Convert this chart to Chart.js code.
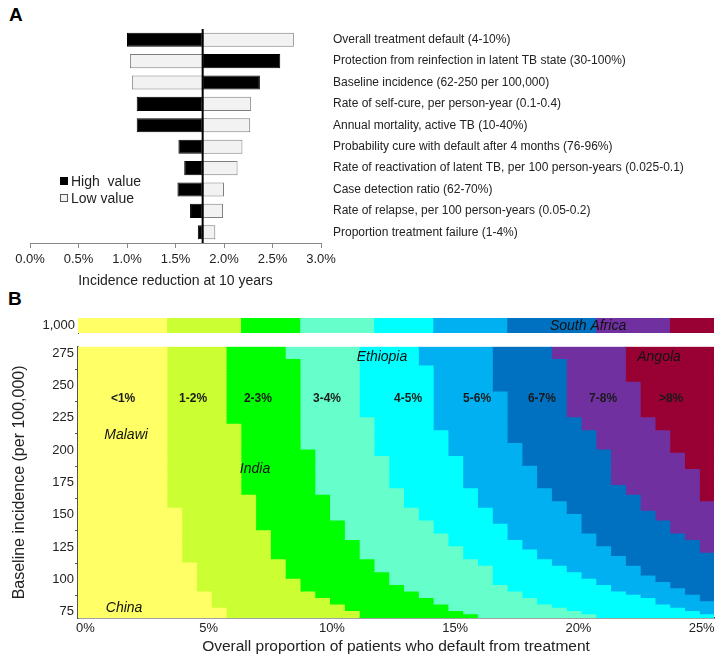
<!DOCTYPE html>
<html>
<head>
<meta charset="utf-8">
<script src="https://cdn.jsdelivr.net/npm/chart.js@4.4.0/dist/chart.umd.min.js"></script>
<style>
  body { margin: 0; background: #fff; width: 719px; height: 658px; position: relative; overflow: hidden; font-family: "Liberation Sans", Arial, sans-serif; }
  .panel-tag { position: absolute; font-weight: bold; font-size: 19px; color: #000; line-height: 1; }
  canvas { position: absolute; left: 0; }
</style>
</head>
<body>
<div class="panel-tag" style="left:9px;top:5px">A</div>
<div class="panel-tag" style="left:8px;top:289px">B</div>
<canvas id="tornado-chart" style="top:0" width="719" height="292"></canvas>
<canvas id="strip-chart" style="top:312px" width="719" height="26"></canvas>
<canvas id="contour-chart" style="top:338px" width="719" height="320"></canvas>
<script>
// Panel A - one-way sensitivity (tornado)
const parameters = [
  'Overall treatment default (4-10%)',
  'Protection from reinfection in latent TB state (30-100%)',
  'Baseline incidence (62-250 per 100,000)',
  'Rate of self-cure, per person-year (0.1-0.4)',
  'Annual mortality, active TB (10-40%)',
  'Probability cure with default after 4 months (76-96%)',
  'Rate of reactivation of latent TB, per 100 person-years (0.025-0.1)',
  'Case detection ratio (62-70%)',
  'Rate of relapse, per 100 person-years (0.05-0.2)',
  'Proportion treatment failure (1-4%)'
];
const baseReduction = 1.78;
const highValueResult = [1.00, 2.58, 2.37, 1.10, 1.10, 1.53, 1.59, 1.52, 1.65, 1.73];
const lowValueResult = [2.72, 1.03, 1.05, 2.28, 2.27, 2.19, 2.14, 2.00, 1.99, 1.91];
const reductionTicks = [0, 0.5, 1.0, 1.5, 2.0, 2.5, 3.0];

// Panel B - reduction bands over default proportion x baseline incidence
const bandLabels = ['<1%', '1-2%', '2-3%', '3-4%', '4-5%', '5-6%', '6-7%', '7-8%', '>8%'];
const bandColors = ['#ffff66', '#ccff33', '#00ff00', '#66ffcc', '#00ffff', '#00b0f0', '#0070c0', '#7030a0', '#990033'];
const bandLabelX = [1.53, 4.37, 7.0, 9.8, 13.09, 15.89, 18.52, 21.0, 23.76];
const bandLabelIncidence = 240;

// default-proportion grid: columns of 0.6% centred on 0%, 0.6%, ... 25.2%
const colStart = -0.3;
const colWidth = 0.6;
const colCount = 43;
const rowStep = 2.5;
const incidenceMin = 70;
const incidenceMax = 280;

// band edges as [incidence from which the step applies (downwards), column index]
const edge1 = [[280, 6], [155, 7], [112.5, 8], [90, 9], [77.5, 10]];
const edge2 = [[280, 10], [220, 11], [165, 12], [137.5, 13], [115, 14], [100, 15], [90, 16], [85, 17], [80, 18], [75, 19]];
const edge3 = [[280, 14], [270, 15], [200, 16], [165, 17], [145, 18], [130, 19], [115, 20], [105, 21], [95, 22], [90, 23], [85, 24], [80, 25], [75, 26], [72.5, 27]];
const edge4 = [[280, 19], [225, 20], [195, 21], [170, 22], [155, 23], [145, 24], [135, 25], [125, 26], [115, 27], [110, 28], [95, 29], [90, 30], [85, 31], [80, 32], [77.5, 33], [75, 34], [72.5, 35]];
const edge5 = [[280, 23], [265, 24], [215, 25], [195, 26], [170, 27], [155, 28], [142.5, 29], [130, 30], [122.5, 31], [115, 32], [110, 33], [105, 34], [100, 35], [95, 36], [90, 37], [87.5, 38], [85, 39], [80, 40], [77.5, 41], [75, 42], [72.5, 43]];
const edge6 = [[280, 28], [245, 29], [205, 30], [187.5, 31], [170, 32], [160, 33], [150, 34], [135, 35], [125, 36], [117.5, 37], [110, 38], [102.5, 39], [97.5, 40], [92.5, 41], [87.5, 42], [82.5, 43]];
const edge7 = [[280, 32], [270, 33], [225, 34], [215, 35], [200, 36], [172.5, 37], [165, 38], [152.5, 39], [145, 40], [135, 41], [130, 42], [120, 43]];
const edge8 = [[280, 37], [252.5, 38], [225, 39], [215, 40], [197.5, 41], [185, 42], [160, 43]];
const bandEdges = [edge1, edge2, edge3, edge4, edge5, edge6, edge7, edge8];

// row for incidence 1,000
const stripLabel = '1,000';
const stripEdges = [6, 11, 15, 20, 24, 29, 35, 40];

const incidenceTicks = [75, 100, 125, 150, 175, 200, 225, 250, 275];
const defaultTicks = [0, 5, 10, 15, 20, 25];

const countryLabels = ['Malawi', 'India', 'Ethiopia', 'Angola', 'China'];
const countryX = [1.65, 6.88, 12.03, 23.27, 1.57];
const countryIncidence = [212, 185, 272, 272, 78];
const stripCountry = 'South Africa';
const stripCountryX = 20.39;

const textColor = '#222';
const FONT = '"Liberation Sans", Arial, sans-serif';
Chart.defaults.font.family = FONT;
Chart.defaults.color = textColor;

function colToX(col) {
  return colStart + colWidth * col;
}

function edgeAt(steps, rowTop) {
  let col = steps[0][1];
  steps.forEach(s => { if (s[0] >= rowTop) col = s[1]; });
  return col;
}

// Vertical line at base case
const baseLinePlugin = {
  id: 'baseLine',
  afterDatasetsDraw(chart) {
    const { ctx, chartArea, scales } = chart;
    const x = scales.x.getPixelForValue(baseReduction);
    ctx.save();
    ctx.strokeStyle = '#000';
    ctx.lineWidth = 2;
    ctx.beginPath();
    ctx.moveTo(x, chartArea.top);
    ctx.lineTo(x, chartArea.bottom);
    ctx.stroke();
    ctx.restore();
  }
};

// Legend inside panel A
const insideLegendPlugin = {
  id: 'insideLegend',
  afterDraw(chart, args, opts) {
    const { ctx } = chart;
    ctx.save();
    ctx.font = '14px ' + FONT;
    ctx.textBaseline = 'middle';
    chart.data.datasets.forEach((ds, i) => {
      const y = opts.top + i * opts.rowHeight;
      ctx.fillStyle = ds.backgroundColor;
      ctx.strokeStyle = i === 0 ? '#000' : '#555';
      ctx.lineWidth = 1;
      ctx.fillRect(opts.left + 0.5, y - 3.5, 7, 7);
      ctx.strokeRect(opts.left + 0.5, y - 3.5, 7, 7);
      ctx.fillStyle = textColor;
      ctx.fillText(ds.legendText, opts.left + 11, y + 1);
    });
    ctx.restore();
  }
};

// Labels drawn at data positions in panel B
const regionLabelPlugin = {
  id: 'regionLabels',
  afterDatasetsDraw(chart, args, opts) {
    const { ctx, scales } = chart;
    ctx.save();
    ctx.textAlign = 'center';
    ctx.textBaseline = 'middle';
    if (opts.bands) {
      ctx.font = 'bold 12px ' + FONT;
      ctx.fillStyle = '#1a1a1a';
      bandLabels.forEach((label, i) => {
        ctx.fillText(label, scales.x.getPixelForValue(bandLabelX[i]), scales.y.getPixelForValue(bandLabelIncidence));
      });
      ctx.font = 'italic 14px ' + FONT;
      ctx.fillStyle = '#111';
      countryLabels.forEach((label, i) => {
        ctx.fillText(label, scales.x.getPixelForValue(countryX[i]), scales.y.getPixelForValue(countryIncidence[i]));
      });
    } else {
      ctx.font = 'italic 14px ' + FONT;
      ctx.fillStyle = '#111';
      ctx.fillText(stripCountry, scales.x.getPixelForValue(stripCountryX), scales.y.getPixelForValue(0) + 1);
    }
    ctx.restore();
  }
};

function renderTornado() {
  const ctx = document.getElementById('tornado-chart').getContext('2d');
  new Chart(ctx, {
    type: 'bar',
    data: {
      labels: parameters,
      datasets: [
        {
          label: 'High value',
          legendText: 'High  value',
          data: highValueResult.map(v => [baseReduction, v]),
          backgroundColor: '#000',
          borderColor: '#000',
          borderWidth: 1,
          borderSkipped: false,
          grouped: false,
          barPercentage: 0.66,
          categoryPercentage: 1
        },
        {
          label: 'Low value',
          legendText: 'Low value',
          data: lowValueResult.map(v => [baseReduction, v]),
          backgroundColor: '#f2f2f2',
          borderColor: '#7f7f7f',
          borderWidth: 1,
          borderSkipped: false,
          grouped: false,
          barPercentage: 0.66,
          categoryPercentage: 1
        }
      ]
    },
    options: {
      responsive: false,
      animation: false,
      indexAxis: 'y',
      layout: { padding: { left: 30, top: 29, right: 0, bottom: 0 } },
      plugins: {
        legend: { display: false },
        tooltip: { enabled: false },
        insideLegend: { left: 60, top: 181, rowHeight: 17 }
      },
      scales: {
        x: {
          min: 0,
          max: 3,
          afterBuildTicks: scale => { scale.ticks = reductionTicks.map(v => ({ value: v })); },
          afterFit: scale => { scale.height = 49; },
          ticks: { callback: v => Number(v).toFixed(1) + '%', font: { size: 13 }, color: textColor, padding: 4, maxRotation: 0 },
          grid: { drawOnChartArea: false, drawTicks: true, tickLength: 5, color: '#888' },
          border: { color: '#888', width: 1 },
          title: { display: true, text: 'Incidence reduction at 10 years', font: { size: 14 }, color: textColor, padding: { top: 0, bottom: 2 } }
        },
        y: {
          position: 'right',
          afterFit: scale => { scale.width = 398; },
          grid: { display: false, drawTicks: false },
          border: { display: false },
          ticks: { font: { size: 12 }, color: textColor, padding: 12, autoSkip: false }
        }
      }
    },
    plugins: [baseLinePlugin, insideLegendPlugin]
  });
}

function renderStrip() {
  const ctx = document.getElementById('strip-chart').getContext('2d');
  const bounds = [0, ...stripEdges, colCount];
  const datasets = bandColors.map((color, k) => ({
    label: bandLabels[k],
    data: [[colToX(bounds[k]), colToX(bounds[k + 1])]],
    backgroundColor: color,
    borderWidth: 0,
    grouped: false,
    barPercentage: 1,
    categoryPercentage: 1
  }));
  new Chart(ctx, {
    type: 'bar',
    data: { labels: [stripLabel], datasets },
    options: {
      responsive: false,
      animation: false,
      indexAxis: 'y',
      layout: { padding: { left: 0, top: 6, right: 5, bottom: 5 } },
      plugins: { legend: { display: false }, tooltip: { enabled: false }, regionLabels: { bands: false } },
      scales: {
        x: { display: false, min: colToX(0), max: colToX(colCount) },
        y: {
          afterFit: scale => {
            scale.width = 78;
            scale.paddingTop = 0;
            scale.paddingBottom = 0;
          },
          grid: { display: false, drawTicks: false },
          border: { color: '#555', width: 1 },
          ticks: { font: { size: 13 }, color: textColor, padding: 3 }
        }
      }
    },
    plugins: [regionLabelPlugin]
  });
}

function renderContour() {
  const ctx = document.getElementById('contour-chart').getContext('2d');
  const datasets = bandColors.map((color, k) => ({
    label: bandLabels[k],
    data: [],
    backgroundColor: color,
    borderColor: color,
    borderWidth: 0,
    inflateAmount: 0.6,
    grouped: false,
    barPercentage: 1,
    categoryPercentage: 1
  }));
  for (let bottom = incidenceMin; bottom < incidenceMax; bottom += rowStep) {
    const top = bottom + rowStep;
    const bounds = [0, ...bandEdges.map(e => edgeAt(e, top)), colCount];
    for (let k = 0; k < bandColors.length; k++) {
      if (bounds[k + 1] > bounds[k]) {
        datasets[k].data.push({ x: [colToX(bounds[k]), colToX(bounds[k + 1])], y: bottom + rowStep / 2 });
      }
    }
  }
  new Chart(ctx, {
    type: 'bar',
    data: { datasets },
    options: {
      responsive: false,
      animation: false,
      indexAxis: 'y',
      layout: { padding: { left: 0, top: 7, right: 5, bottom: 0 } },
      plugins: { legend: { display: false }, tooltip: { enabled: false }, regionLabels: { bands: true } },
      scales: {
        x: {
          type: 'linear',
          min: colToX(0),
          max: colToX(colCount),
          afterBuildTicks: scale => { scale.ticks = defaultTicks.map(v => ({ value: v })); },
          afterFit: scale => { scale.height = 40; },
          ticks: { callback: v => v + '%', font: { size: 13 }, color: textColor, padding: 3, maxRotation: 0 },
          grid: { drawOnChartArea: false, drawTicks: false },
          border: { color: '#444', width: 1.5 },
          title: { display: true, text: 'Overall proportion of patients who default from treatment', font: { size: 15.5 }, color: textColor, padding: { top: 0, bottom: 2 } }
        },
        y: {
          type: 'linear',
          offset: false,
          min: incidenceMin,
          max: incidenceMax,
          afterBuildTicks: scale => { scale.ticks = incidenceTicks.map(v => ({ value: v })); },
          afterFit: scale => { scale.width = 78; },
          ticks: { font: { size: 13 }, color: textColor, padding: 1 },
          grid: { drawOnChartArea: false, drawTicks: true, tickLength: 3, color: '#555' },
          border: { color: '#555', width: 1.5 },
          title: { display: true, text: 'Baseline incidence (per 100,000)', font: { size: 16 }, color: textColor, padding: { top: 10, bottom: 0 } }
        }
      }
    },
    plugins: [regionLabelPlugin]
  });
}

renderTornado();
renderStrip();
renderContour();
</script>
</body>
</html>
